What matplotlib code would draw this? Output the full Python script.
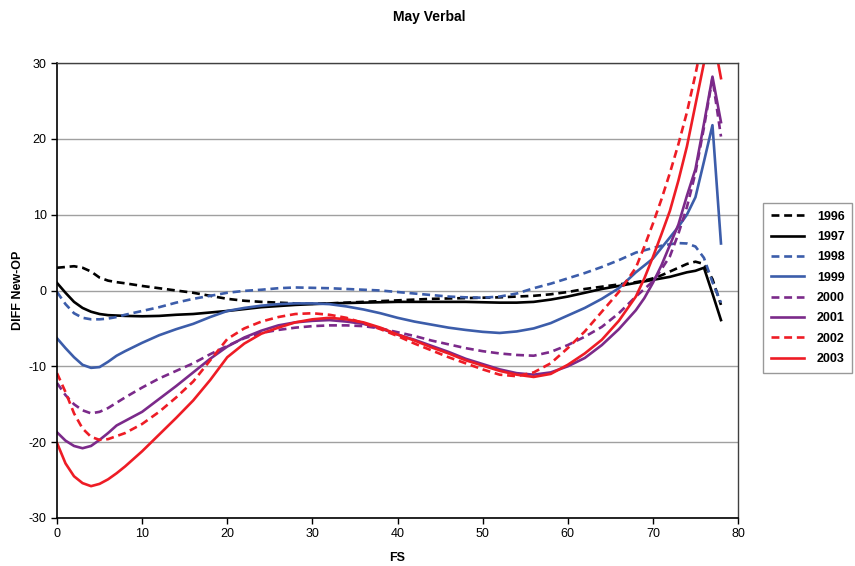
import matplotlib
matplotlib.use("Agg")
import matplotlib.pyplot as plt

# FS points the curves were read at
fs = [0, 1, 2, 3, 4, 5, 6, 7, 8, 10, 12, 14, 16, 18, 20, 22, 24, 26, 28, 30,
      32, 34, 36, 38, 40, 42, 44, 46, 48, 50, 52, 54, 56, 58, 60, 62, 64, 66,
      68, 69, 70, 71, 72, 73, 74, 75, 76, 77, 78]

y1996 = [3.0, 3.1, 3.2, 3.0, 2.5, 1.7, 1.3, 1.1, 0.95, 0.6, 0.3, 0.0, -0.3, -0.7,
         -1.1, -1.35, -1.5, -1.6, -1.7, -1.75, -1.7, -1.6, -1.5, -1.4, -1.3, -1.2,
         -1.1, -1.05, -1.0, -0.95, -0.9, -0.8, -0.7, -0.5, -0.2, 0.2, 0.5, 0.8,
         1.1, 1.3, 1.6, 2.0, 2.5, 3.0, 3.5, 3.8, 3.5, 1.5, -1.9]
y1997 = [1.0, -0.3, -1.5, -2.3, -2.8, -3.1, -3.25, -3.3, -3.35, -3.4, -3.35, -3.2,
         -3.1, -2.9, -2.7, -2.45, -2.2, -2.05, -1.9, -1.8, -1.7, -1.65, -1.6, -1.55,
         -1.5, -1.5, -1.5, -1.5, -1.5, -1.55, -1.6, -1.6, -1.5, -1.2, -0.8, -0.3,
         0.2, 0.6, 1.0, 1.2, 1.4, 1.6, 1.8, 2.1, 2.4, 2.6, 3.0, -0.4, -3.9]
y1998 = [-0.2, -1.8, -3.0, -3.6, -3.8, -3.8, -3.7, -3.5, -3.2, -2.7, -2.2, -1.6,
         -1.1, -0.7, -0.3, -0.05, 0.1, 0.3, 0.4, 0.35, 0.3, 0.2, 0.1, 0.0, -0.2,
         -0.4, -0.6, -0.8, -0.9, -0.95, -0.8, -0.4, 0.3, 0.9, 1.6, 2.3, 3.1, 4.0,
         5.0, 5.3, 5.6, 5.9, 6.1, 6.25, 6.2, 5.8, 4.3, 1.1, -1.6]
y1999 = [-6.3, -7.6, -8.8, -9.8, -10.2, -10.1, -9.4, -8.6, -8.0, -6.9, -5.9, -5.1,
         -4.4, -3.5, -2.7, -2.3, -2.0, -1.8, -1.7, -1.7, -1.8, -2.1, -2.5, -3.0,
         -3.6, -4.1, -4.5, -4.9, -5.2, -5.45, -5.6, -5.4, -5.0, -4.3, -3.3, -2.3,
         -1.1, 0.3, 2.4, 3.3, 4.2, 5.6, 7.0, 8.4, 10.0, 12.3, 17.0, 21.8, 6.2]
y2000 = [-12.2, -13.8, -15.0, -15.8, -16.2, -16.0, -15.5, -14.8, -14.1, -12.8,
         -11.6, -10.6, -9.6, -8.4, -7.3, -6.3, -5.6, -5.2, -4.9, -4.7, -4.6, -4.6,
         -4.7, -5.0, -5.5, -6.0, -6.6, -7.1, -7.6, -8.0, -8.3, -8.5, -8.6, -8.1,
         -7.2, -6.1, -4.8, -3.0, -0.8, 0.2, 1.2, 2.8, 4.5, 7.5, 11.0, 15.5, 21.5,
         28.0, 20.3]
y2001 = [-18.7, -19.8, -20.5, -20.8, -20.5, -19.7, -18.8, -17.8, -17.2, -16.0,
         -14.3, -12.6, -10.8, -9.0, -7.4, -6.2, -5.3, -4.6, -4.2, -4.0, -3.9, -4.1,
         -4.4, -5.0, -5.8, -6.5, -7.3, -8.1, -9.0, -9.7, -10.4, -10.9, -11.1,
         -10.8, -10.0, -8.9, -7.2, -5.1, -2.6, -1.0, 1.0, 3.3, 6.0, 8.7, 12.5,
         16.0, 22.0, 28.2, 22.2]
y2002 = [-10.9, -13.4, -16.2, -18.2, -19.3, -19.7, -19.6, -19.2, -18.8, -17.6,
         -16.0, -14.1, -12.0, -9.2, -6.4, -5.0, -4.1, -3.5, -3.1, -3.0, -3.2, -3.6,
         -4.3, -5.1, -6.0, -7.0, -7.9, -8.8, -9.6, -10.4, -11.1, -11.3, -10.8,
         -9.6, -7.6, -5.4, -2.8, -0.2, 3.0, 5.8, 8.8, 12.0, 15.5, 19.3, 23.5,
         28.5, 34.0, 38.0, 36.0]
y2003 = [-20.1, -22.8, -24.5, -25.4, -25.8, -25.5, -24.9, -24.1, -23.2, -21.2,
         -19.0, -16.8, -14.5, -11.8, -8.8, -7.0, -5.7, -4.9, -4.2, -3.8, -3.6,
         -3.8, -4.2, -4.9, -5.8, -6.6, -7.5, -8.3, -9.2, -9.9, -10.6, -11.1,
         -11.4, -11.0, -9.8, -8.3, -6.5, -4.0, -0.8, 1.6, 4.4, 7.4, 10.5, 14.5,
         19.0, 24.5, 30.0, 34.0, 28.0]

years = ["1996", "1997", "1998", "1999", "2000", "2001", "2002", "2003"]
series = [y1996, y1997, y1998, y1999, y2000, y2001, y2002, y2003]

black = "#000000"
blue = "#3C5DAA"
purple = "#7B2A8A"
red = "#EE1C25"
colors = [black, black, blue, blue, purple, purple, red, red]
dashed = [True, False, True, False, True, False, True, False]

plt.rcParams["font.family"] = ["Liberation Sans", "DejaVu Sans"]
plt.rcParams["axes.unicode_minus"] = False

fig = plt.figure(figsize=(8.55, 5.66), dpi=100)
ax = fig.add_axes([57 / 855, 1 - 518 / 566, (738 - 57) / 855, (518 - 63) / 566])

for yr, ys, c, d in zip(years, series, colors, dashed):
    line, = ax.plot(fs, ys, color=c, lw=1.9, label=yr,
                    solid_joinstyle="round", dash_joinstyle="round")
    if d:
        line.set_dashes((3, 1.8))

ax.set_xlim(0, 80)
ax.set_ylim(-30, 30)
ax.set_xticks(range(0, 81, 10))
ax.set_yticks(range(-30, 31, 10))
ax.grid(axis="y", color="#A0A0A0", lw=1)
ax.set_axisbelow(True)
ax.tick_params(direction="out", length=4, labelsize=9, width=1)

for side in ["left", "bottom"]:
    ax.spines[side].set_color("black")
    ax.spines[side].set_linewidth(1.2)
for side in ["top", "right"]:
    ax.spines[side].set_color("#404040")
    ax.spines[side].set_linewidth(1)

ax.set_xlabel("FS", fontsize=9, fontweight="bold", labelpad=8)
ax.set_ylabel("DIFF New-OP", fontsize=9, fontweight="bold")
ax.yaxis.set_label_coords(-(57 - 24) / 681, 0.5)
fig.suptitle("May Verbal", x=0.502, y=0.983, fontsize=10, fontweight="bold")

leg = ax.legend(loc="upper left", bbox_to_anchor=(763 / 855, 1 - 203 / 566),
                bbox_transform=fig.transFigure, fontsize=9, frameon=True,
                fancybox=False, handlelength=2.7, labelspacing=0.67,
                handletextpad=1.0, borderpad=0.6, borderaxespad=0)
leg.get_frame().set_edgecolor("#808080")
leg.get_frame().set_linewidth(1)
for t in leg.get_texts():
    t.set_fontweight("bold")

fig.savefig("out.png", dpi=100)
